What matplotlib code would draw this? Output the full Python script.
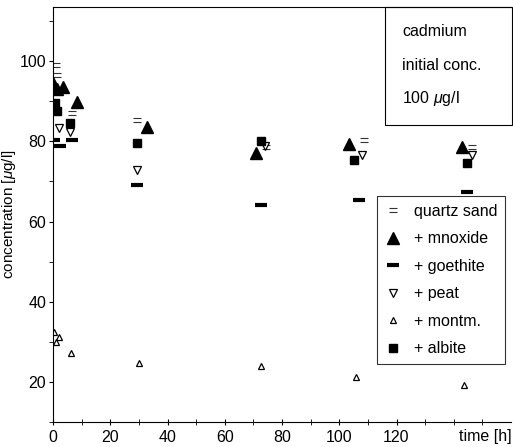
"""
Cadmium concentration vs time for quartz sand with different additives.
"""

import matplotlib

matplotlib.use("Agg")
import matplotlib.pyplot as plt
from matplotlib.patches import Rectangle
from matplotlib.path import Path

plt.rcParams["font.family"] = ["Liberation Sans", "DejaVu Sans"]
plt.rcParams["mathtext.fontset"] = "custom"
plt.rcParams["mathtext.it"] = "Liberation Sans:italic"
plt.rcParams["mathtext.rm"] = "Liberation Sans"

# data (time in h, concentration in ug/l)
quartz_t = [1, 1.5, 6.5, 29.5, 74.5, 108.5, 146.5]
quartz_v = [99, 96.5, 87, 85.3, 78.5, 80.3, 78.6]

mnoxide_t = [0, 1.5, 3.5, 8.5, 33, 71, 103.5, 143]
mnoxide_v = [94.6, 93, 93.6, 89.8, 83.6, 77.1, 79.4, 78.6]

goethite_t = [0.5, 2.5, 6.5, 29.5, 72.5, 107, 144.5]
goethite_v = [80.3, 78.9, 80.3, 69.1, 64.1, 65.4, 67.4]

peat_t = [2, 6, 29.5, 74, 108, 146.5]
peat_v = [83.3, 82.3, 72.9, 78.9, 76.6, 76.6]

montm_t = [0.5, 2, 1.2, 6.3, 30, 72.5, 106, 143.5]
montm_v = [32.5, 31.2, 30.0, 27.2, 24.7, 24.0, 21.2, 19.3]

albite_t = [0.8, 1.5, 6, 29.5, 72.5, 105, 144.8]
albite_v = [89.5, 87.5, 84.5, 79.6, 80.1, 75.4, 74.6]

x_ticks = [0, 20, 40, 60, 80, 100, 120]
y_ticks = [20, 40, 60, 80, 100]
info_lines = ["cadmium", "initial conc.", r"100 $\mu$g/l"]

# "=" marker for quartz sand
eq_marker = Path(
    [(-1, 0.4), (1, 0.4), (-1, -0.4), (1, -0.4)],
    [Path.MOVETO, Path.LINETO, Path.MOVETO, Path.LINETO],
)

fig = plt.figure(figsize=(5.13, 4.47), dpi=100)
ax = fig.add_axes([53 / 513, 25 / 447, 458 / 513, 415 / 447])

ax.plot(quartz_t, quartz_v, ls="none", marker=eq_marker, ms=6, mew=0.8,
        color="#333333", label="quartz sand")
ax.plot(mnoxide_t, mnoxide_v, ls="none", marker="^", ms=8, color="black",
        label="+ mnoxide")
ax.plot(goethite_t, goethite_v, ls="none", marker="_", ms=9, mew=3,
        color="black", label="+ goethite")
ax.plot(peat_t, peat_v, ls="none", marker="v", ms=6, mfc="white",
        mec="black", mew=0.9, label="+ peat")
ax.plot(montm_t, montm_v, ls="none", marker="^", ms=5, mfc="white",
        mec="black", mew=0.9, label="+ montm.")
ax.plot(albite_t, albite_v, ls="none", marker="s", ms=5.5, color="black",
        label="+ albite")

ax.set_xlim(0, 160)
ax.set_ylim(10, 113.5)
ax.set_xticks(x_ticks)
ax.set_xticks(range(10, 160, 10), minor=True)
ax.set_yticks(y_ticks)
ax.set_yticks(range(10, 111, 10), minor=True)
ax.tick_params(axis="both", labelsize=11.5, width=0.8)
ax.tick_params(axis="x", which="both", direction="inout", length=5, pad=3)
ax.tick_params(axis="y", which="both", direction="out", length=3, pad=2)
ax.spines["right"].set_visible(False)
for side in ("left", "bottom", "top"):
    ax.spines[side].set_linewidth(0.8)

ax.set_ylabel(r"concentration [$\mu$g/l]", fontsize=11, labelpad=1)
ax.text(151, -0.017, "time [h]", transform=ax.get_xaxis_transform(),
        ha="center", va="top", fontsize=11.5)

leg = ax.legend(loc="upper left", bbox_to_anchor=(377 / 513, 1 - 196 / 447),
                bbox_transform=fig.transFigure, borderaxespad=0,
                fontsize=11.5, frameon=True, fancybox=False,
                labelspacing=0.78, handlelength=1.0, handletextpad=0.8,
                borderpad=0.5)
leg.get_frame().set_edgecolor("black")
leg.get_frame().set_linewidth(0.8)

# info box top right
fig.patches.append(Rectangle((385 / 513, 1 - 125 / 447), 127 / 513, 118 / 447,
                             transform=fig.transFigure, fill=False,
                             edgecolor="black", linewidth=0.8))
for i, line in enumerate(info_lines):
    fig.text(402 / 513, 1 - (32 + 33 * i) / 447, line, ha="left",
             va="center", fontsize=11.5)

fig.savefig("out.png", dpi=100)
